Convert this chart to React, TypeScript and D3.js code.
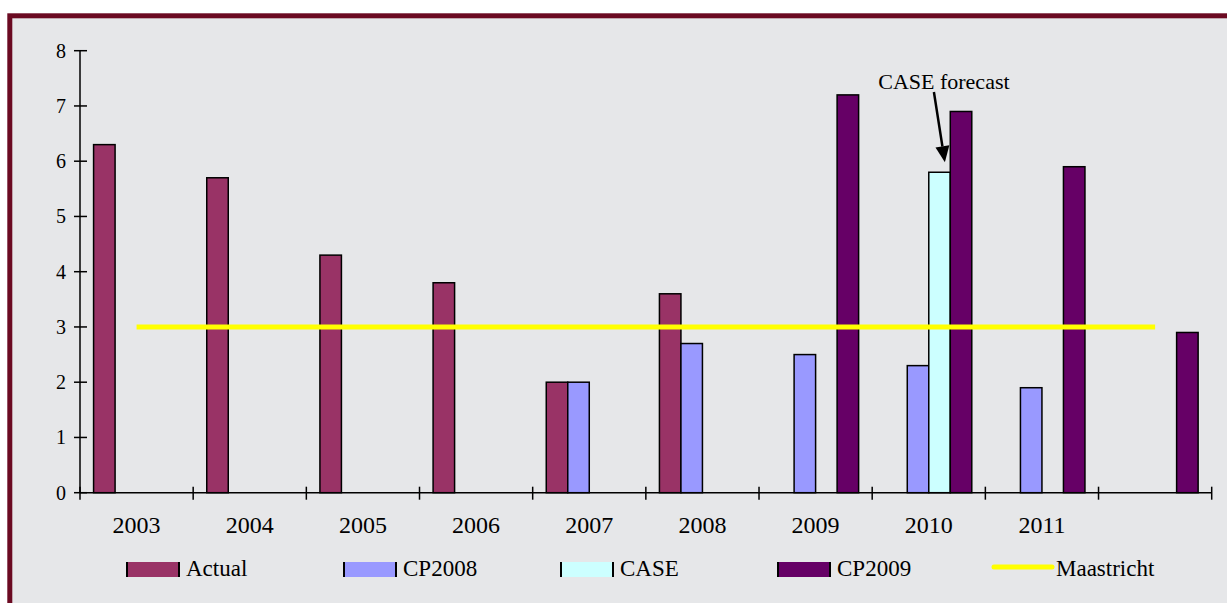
import React from "react";
import * as d3 from "d3";

// categories on the x axis (last one has no label)
const categories = ["2003", "2004", "2005", "2006", "2007", "2008", "2009", "2010", "2011", "2012"];
const tickLabels = ["2003", "2004", "2005", "2006", "2007", "2008", "2009", "2010", "2011", ""];
const yTicks = [0, 1, 2, 3, 4, 5, 6, 7, 8];

// series values (null = no bar)
const actual = [6.3, 5.7, 4.3, 3.8, 2.0, 3.6, null, null, null, null];
const cp2008 = [null, null, null, null, 2.0, 2.7, 2.5, 2.3, 1.9, null];
const caseForecast = [null, null, null, null, null, null, null, 5.8, null, null];
const cp2009 = [null, null, null, null, null, null, 7.2, 6.9, 5.9, 2.9];
const maastricht = [3, 3, 3, 3, 3, 3, 3, 3, 3, 3];

const seriesNames = ["Actual", "CP2008", "CASE", "CP2009"];
const seriesValues = [actual, cp2008, caseForecast, cp2009];
const seriesColors = ["#993366", "#9999ff", "#ccffff", "#660066"];

const W = 1227;
const H = 603;
const font = "'Liberation Serif', 'Times New Roman', serif";

export default function App() {
  const x = d3
    .scaleBand()
    .domain(categories)
    .range([80, 1211.7])
    .paddingInner(0.24)
    .paddingOuter(0.12);
  const xs = d3.scaleBand().domain(seriesNames).range([0, x.bandwidth()]);
  const y = d3.scaleLinear().domain([0, 8]).range([492.7, 50.7]);
  const step = x.step();
  const x0 = 80;

  const line = d3
    .line<number>()
    .x((d, i) => (x(categories[i]) as number) + x.bandwidth() / 2)
    .y((d) => y(d));

  // annotation arrow pointing to CASE bar
  const caseIdx = caseForecast.findIndex((v) => v != null);
  const caseX = (x(categories[caseIdx]) as number) + (xs("CASE") as number);
  const tipX = caseX + xs.bandwidth() * 0.75;
  const tipY = y(caseForecast[caseIdx] as number) - 10;
  const startX = tipX - 11;
  const startY = 92;
  const ang = Math.atan2(tipY - startY, tipX - startX);
  const headLen = 16;
  const headW = 7;
  const bx = tipX - headLen * Math.cos(ang);
  const by = tipY - headLen * Math.sin(ang);
  const px = -Math.sin(ang) * headW;
  const py = Math.cos(ang) * headW;

  const legendX = d3.scaleLinear().domain([0, 4]).range([126, 994]);

  return (
    <svg width={W} height={H} style={{ position: "absolute", left: 0, top: 0 }}>
      <rect x={0} y={0} width={W} height={H} fill="#ffffff" />
      <rect x={9.8} y={15.8} width={1300} height={700} fill="#e6e7e9" stroke="#6b0a22" strokeWidth={5} />

      {/* bars */}
      {seriesValues.map((vals, si) =>
        vals.map((v, ci) =>
          v == null ? null : (
            <rect
              key={`${si}-${ci}`}
              x={(x(categories[ci]) as number) + (xs(seriesNames[si]) as number)}
              y={y(v)}
              width={xs.bandwidth()}
              height={y(0) - y(v)}
              fill={seriesColors[si]}
              stroke="#000"
              strokeWidth={1.5}
            />
          )
        )
      )}

      {/* Maastricht line */}
      <path d={line(maastricht) as string} fill="none" stroke="#ffff00" strokeWidth={5} />

      {/* y axis */}
      <line x1={80} x2={80} y1={y(8)} y2={y(0)} stroke="#000" strokeWidth={1.5} />
      {yTicks.map((t) => (
        <g key={t}>
          <line x1={74} x2={87} y1={y(t)} y2={y(t)} stroke="#000" strokeWidth={1.5} />
          <text x={66} y={y(t) + 7} textAnchor="end" fontFamily={font} fontSize={20} fill="#000">
            {t}
          </text>
        </g>
      ))}

      {/* x axis */}
      <line x1={x0} x2={x0 + step * categories.length} y1={y(0)} y2={y(0)} stroke="#000" strokeWidth={1.5} />
      {d3.range(categories.length + 1).map((i) => (
        <line key={i} x1={x0 + i * step} x2={x0 + i * step} y1={y(0) - 6} y2={y(0) + 7} stroke="#000" strokeWidth={1.5} />
      ))}
      {categories.map((c, i) => (
        <text
          key={c}
          x={(x(c) as number) + x.bandwidth() / 2}
          y={533}
          textAnchor="middle"
          fontFamily={font}
          fontSize={24}
          fill="#000"
        >
          {tickLabels[i]}
        </text>
      ))}

      {/* annotation */}
      <text x={tipX - 1} y={89} textAnchor="middle" fontFamily={font} fontSize={22} fill="#000">
        CASE forecast
      </text>
      <line x1={startX} y1={startY} x2={bx} y2={by} stroke="#000" strokeWidth={2.5} />
      <polygon points={`${tipX},${tipY} ${bx + px},${by + py} ${bx - px},${by - py}`} fill="#000" />

      {/* legend */}
      {seriesNames.map((s, i) => {
        const lx = legendX(i);
        return (
          <g key={s}>
            <rect x={lx} y={562} width={54} height={15} fill={seriesColors[i]} />
            <line x1={lx + 1} x2={lx + 1} y1={562} y2={577} stroke="#000" strokeWidth={2} />
            <line x1={lx + 53} x2={lx + 53} y1={562} y2={577} stroke="#000" strokeWidth={2} />
            <text x={lx + 60} y={576} fontFamily={font} fontSize={23} fill="#000">
              {s}
            </text>
          </g>
        );
      })}
      <line x1={legendX(4)} x2={legendX(4) + 58} y1={567} y2={567} stroke="#ffff00" strokeWidth={5} strokeLinecap="round" />
      <text x={legendX(4) + 62} y={576} fontFamily={font} fontSize={23} fill="#000">
        Maastricht
      </text>
    </svg>
  );
}
